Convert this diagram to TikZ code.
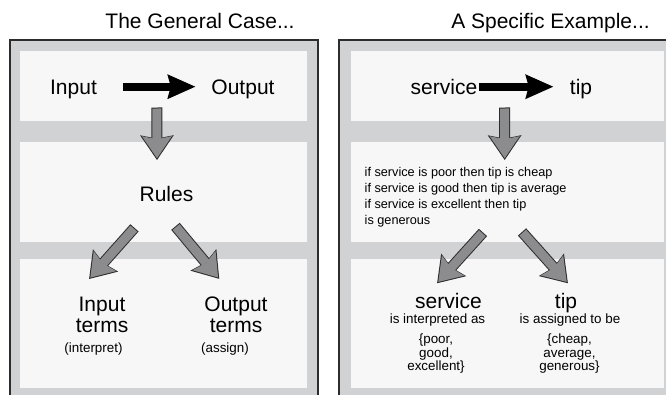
\documentclass[tikz,border=0pt]{standalone}
\usepackage{fontspec}
\setmainfont{Liberation Sans}
\usetikzlibrary{arrows.meta}

\definecolor{panelgray}{RGB}{209,210,212}
\definecolor{boxwhite}{RGB}{247,247,247}
\definecolor{arrowgray}{RGB}{140,140,142}
\definecolor{edgegray}{RGB}{45,45,45}

\begin{document}
\begin{tikzpicture}[x=1pt, y=-1pt,
    panel/.style={draw=edgegray, line width=1.4pt, fill=panelgray},
    box/.style={fill=boxwhite},
    big/.style={inner sep=0pt, font=\fontsize{21}{21}\selectfont, text height=17pt, text depth=0.5pt},
    bigterms/.style={inner sep=0pt, font=\fontsize{21}{21}\selectfont, align=center, anchor=north},
    small/.style={inner sep=0pt, font=\fontsize{13.4}{13.5}\selectfont, align=center},
    rule/.style={inner sep=0pt, font=\fontsize{12.7}{16}\selectfont, align=left, anchor=north west},
    blackarrow/.style={draw=black, line width=8pt, -{Stealth[length=28pt, width=25pt, inset=3.5pt, line width=0pt]}},
    grayarrow/.style={draw=arrowgray, line width=9pt, -{Stealth[length=22pt, width=30pt, inset=3pt, line width=0pt]},
        preaction={draw=edgegray, line width=11pt, shorten <=-1pt, shorten >=-1.8pt,
            -{Stealth[length=24.8pt, width=33.8pt, inset=3.4pt, line width=0pt]}}}
]
    \useasboundingbox (0,0) rectangle (666,394);
    \clip (0,0) rectangle (666,394);

    % panels
    \draw[panel] (10,40) rectangle (318,400);
    \draw[panel] (339,40) rectangle (680,400);
    \fill[box] (20,51) rectangle (307,120.5);
    \fill[box] (20,142) rectangle (307,242);
    \fill[box] (20,259) rectangle (307,388);
    \fill[box] (351,51) rectangle (664,120.5);
    \fill[box] (351,142) rectangle (664,242);
    \fill[box] (351,259) rectangle (664,388);

    \node[big] (gen) at (200,20) {The General Case...};
    \node[big] (spec) at (550.5,20) {A Specific Example...};

    % the general case
    \node[big] (in) at (73.5,86.7) {Input};
    \node[big] (out) at (243,86.7) {Output};
    \draw[blackarrow, shorten <=25.7pt, shorten >=16pt] (in) -- (out);

    \node[big] (rules) at (166.5,193) {Rules};
    \coordinate (rulestop) at (156.8,108.5);
    \coordinate (rulesin) at (157,158.2);
    \draw[grayarrow] (rulestop) -- (rulesin);

    \node[bigterms] (iterm) at (102,296.5) {Input\\terms};
    \node[bigterms] (oterm) at (236,296.5) {Output\\terms};
    \node[small] (interp) at (93.5,349) {(interpret)};
    \node[small] (assign) at (225,349) {(assign)};
    \coordinate (ruleso1) at (133.8,228.6);
    \coordinate (itermin) at (90.3,277.6);
    \coordinate (ruleso2) at (176.1,227.1);
    \coordinate (otermin) at (218.1,277.5);
    \draw[grayarrow] (ruleso1) -- (itermin);
    \draw[grayarrow] (ruleso2) -- (otermin);

    % a specific example
    \node[big] (svc) at (444,86.7) {service};
    \node[big] (tip) at (581,86.7) {tip};
    \draw[blackarrow, shorten <=1.5pt, shorten >=16.5pt] (svc) -- (tip);

    \node[rule] (rtext) at (364.5,167.3) {if service is poor then tip is cheap\\if service is good then tip is average\\if service is excellent then tip\\is generous};
    \coordinate (rtexttop) at (504.5,108.5);
    \coordinate (rtextin) at (504.7,158.2);
    \draw[grayarrow] (rtexttop) -- (rtextin);

    \node[big] (svcterm) at (448.5,300) {service};
    \node[big] (tipterm) at (566,300) {tip};
    \node[small] (svcdesc) at (437.5,319.8) {is interpreted as};
    \node[small] (tipdesc) at (570,319.8) {is assigned to be};
    \node[small, anchor=north] (svcset) at (436,334) {\{poor,\\good,\\excellent\}};
    \node[small, anchor=north] (tipset) at (569.5,334) {\{cheap,\\average,\\generous\}};
    \coordinate (rtexto1) at (482.3,233.2);
    \coordinate (svcin) at (438.3,281.9);
    \coordinate (rtexto2) at (522.7,232.7);
    \coordinate (tipin) at (566.7,281.9);
    \draw[grayarrow] (rtexto1) -- (svcin);
    \draw[grayarrow] (rtexto2) -- (tipin);

\end{tikzpicture}
\end{document}
